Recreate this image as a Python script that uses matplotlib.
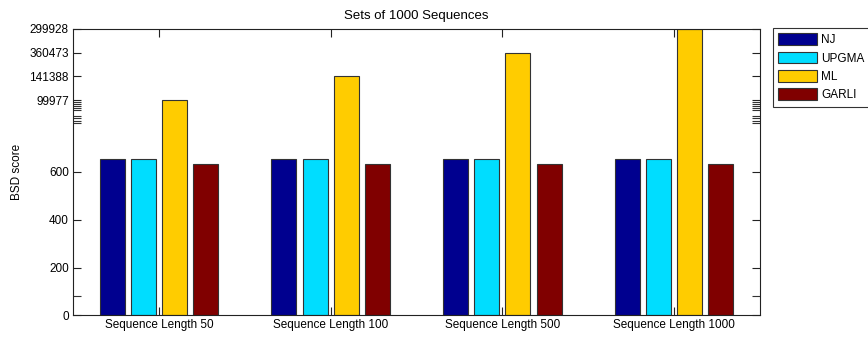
import matplotlib
matplotlib.use("Agg")
import matplotlib.pyplot as plt
import numpy as np

plt.rcParams['font.family'] = ['Liberation Sans', 'DejaVu Sans']

categories = ["Sequence Length 50", "Sequence Length 100", "Sequence Length 500", "Sequence Length 1000"]
series_names = ["NJ", "UPGMA", "ML", "GARLI"]
nj = [654, 654, 654, 654]
upgma = [654, 654, 654, 654]
garli = [633, 633, 633, 633]
ml = [99977, 141388, 360473, 299928]          # true values, shown on broken axis
lower_ticks = [0, 200, 400, 600]
upper_tick_labels = ["99977", "141388", "360473", "299928"]
colors = ["#00008F", "#00DDFF", "#FFCC00", "#800000"]

# broken-axis: upper labels are placed at 900, 1000, 1100, 1200 in axis units
upper_pos = [900 + 100 * i for i in range(len(upper_tick_labels))]
label_to_pos = {int(l): p for l, p in zip(upper_tick_labels, upper_pos)}
ml_axis = [label_to_pos[v] for v in ml]

FS = 8.5

fig = plt.figure(figsize=(8.68, 3.39), dpi=100)
ax = fig.add_axes([73 / 868, 1 - 315.3 / 339, (760 - 73) / 868, (315.3 - 28.7) / 339])

x = np.arange(1, len(categories) + 1)
nser = 4
gw = min(0.8, nser / (nser + 1.5))
step = gw / nser
bw = step * 0.8
data = [nj, upgma, ml_axis, garli]
handles = []
for i, (vals, c, name) in enumerate(zip(data, colors, series_names)):
    off = (i - (nser - 1) / 2) * step
    h = ax.bar(x + off, vals, width=bw, color=c, edgecolor="#333333", linewidth=0.8, label=name)
    handles.append(h)

ax.set_xlim(0.5, 4.5)
ax.set_ylim(0, 1200)
ax.set_xticks(x)
ax.set_xticklabels(categories)
ax.set_yticks(lower_ticks + upper_pos)
ax.set_yticklabels([str(t) for t in lower_ticks] + upper_tick_labels)
minor = [82, 804, 815, 825, 836, 861, 869, 878, 886, 894]
ax.set_yticks(minor, minor=True)
ax.tick_params(axis='both', which='major', direction='in', length=6, width=0.8,
               labelsize=FS, top=True, right=True, colors='#222222', labelcolor='black', pad=3)
ax.tick_params(axis='y', which='minor', direction='in', length=6, width=0.8, right=True, colors='#333333')
for s in ax.spines.values():
    s.set_linewidth(0.8)
    s.set_color('#222222')

ax.set_ylabel("BSD score", fontsize=FS, labelpad=4.5)
ax.set_title("Sets of 1000 Sequences", fontsize=9.5, pad=7)

leg = ax.legend(handles=handles, labels=series_names, loc='upper left',
                bbox_to_anchor=(773 / 868, 1 - 28 / 339), bbox_transform=fig.transFigure,
                fontsize=FS, handlelength=3.27, handleheight=1.14, labelspacing=0.47,
                handletextpad=0.34, borderpad=0.45, borderaxespad=0, fancybox=False,
                frameon=True, edgecolor='black')
leg.get_frame().set_linewidth(0.8)

fig.savefig("out.png", dpi=100)
